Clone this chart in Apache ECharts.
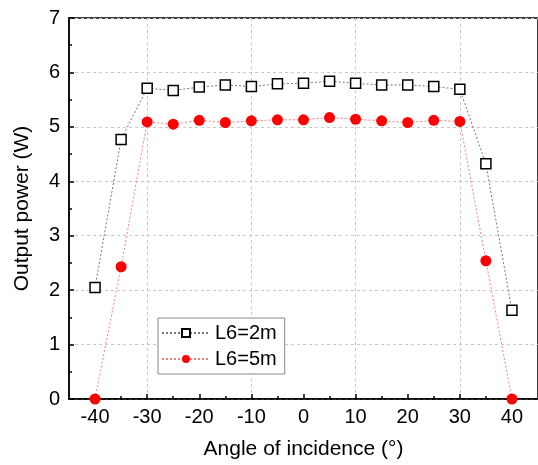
<!DOCTYPE html>
<html><head><meta charset="utf-8">
<script src="https://cdn.jsdelivr.net/npm/echarts@6/dist/echarts.min.js"></script>
<style>html,body{margin:0;padding:0;background:#fff}#c{width:538px;height:465px}</style>
</head><body><div id="c"></div>
<script>
const angles = [-40,-35,-30,-25,-20,-15,-10,-5,0,5,10,15,20,25,30,35,40];
const power2m = [2.05,4.77,5.71,5.67,5.73,5.77,5.74,5.79,5.80,5.84,5.80,5.77,5.77,5.74,5.69,4.32,1.63];
const power5m = [0,2.43,5.09,5.05,5.12,5.08,5.11,5.13,5.13,5.17,5.14,5.11,5.08,5.12,5.10,2.54,0];
const xMajorTicks = [-40,-30,-20,-10,0,10,20,30,40];
const xMinorTicks = [-35,-25,-15,-5,5,15,25,35];
const seriesNames = ['L6=2m','L6=5m'];

const font = 'Liberation Sans, Arial, sans-serif';
const chart = echarts.init(document.getElementById('c'), null, {renderer:'canvas'});
const pair = (xs, ys) => xs.map((x,i)=>[x, ys[i]]);
const gridColors = [];
for (let v = -45; v <= 45; v += 5) gridColors.push(v % 10 === 0 ? '#c8c8c8' : 'rgba(0,0,0,0)');

chart.setOption({
  animation: false,
  grid: {left: 69, top: 18, right: -5, bottom: 65, show: true, borderColor: '#000', borderWidth: 1.5, backgroundColor: 'transparent'},
  xAxis: [{
    type: 'value', min: -45, max: 45, interval: 5,
    name: 'Angle of incidence (°)', nameLocation: 'middle', nameGap: 40,
    nameTextStyle: {fontFamily: font, fontSize: 21, color: '#000'},
    axisLine: {show: true, onZero: false, lineStyle: {color: '#000', width: 1.5}},
    axisTick: {show: true, inside: true, length: 5, customValues: xMajorTicks, lineStyle: {color: '#000', width: 1.5}},
    axisLabel: {customValues: xMajorTicks, margin: 8, fontFamily: font, fontSize: 20, color: '#000'},
    splitLine: {show: true, lineStyle: {color: gridColors, type: [3,3], width: 1}}
  },{
    type: 'value', min: -45, max: 45, interval: 5, position: 'bottom', gridIndex: 0,
    axisLine: {show: false},
    axisTick: {show: true, inside: true, length: 3, customValues: xMinorTicks, lineStyle: {color: '#000', width: 1.5}},
    axisLabel: {show: false},
    splitLine: {show: false}
  }],
  yAxis: {
    type: 'value', min: 0, max: 7, interval: 1,
    name: 'Output power (W)', nameLocation: 'middle', nameGap: 36,
    nameTextStyle: {fontFamily: font, fontSize: 21, color: '#000'},
    axisLine: {show: true, onZero: false, lineStyle: {color: '#000', width: 1.5}},
    axisTick: {show: true, inside: true, length: 5, lineStyle: {color: '#000', width: 1.5}},
    minorTick: {show: true, splitNumber: 2, length: 3, lineStyle: {color: '#000', width: 1.5}},
    axisLabel: {margin: 9, fontFamily: font, fontSize: 20, color: '#000'},
    splitLine: {show: true, lineStyle: {color: '#c8c8c8', type: [3,3], width: 1}}
  },
  legend: {
    left: 158, top: 318, orient: 'vertical',
    data: seriesNames,
    itemWidth: 48, itemHeight: 10, itemGap: 6,
    padding: [5, 8, 5, 3],
    borderColor: '#888', borderWidth: 1, backgroundColor: '#fff',
    textStyle: {fontFamily: font, fontSize: 20, color: '#000'}
  },
  series: [{
    name: seriesNames[0], type: 'line', data: pair(angles, power2m),
    symbol: 'rect', symbolSize: 10,
    itemStyle: {color: '#fff', borderColor: '#000', borderWidth: 1.5},
    lineStyle: {color: '#777', width: 1, type: [2,2]},
    z: 3
  },{
    name: seriesNames[1], type: 'line', data: pair(angles, power5m),
    symbol: 'circle', symbolSize: 11,
    itemStyle: {color: '#f00', borderColor: '#f00', borderWidth: 0},
    lineStyle: {color: '#f08080', width: 1, type: [2,2]},
    z: 4
  }]
});
</script></body></html>
